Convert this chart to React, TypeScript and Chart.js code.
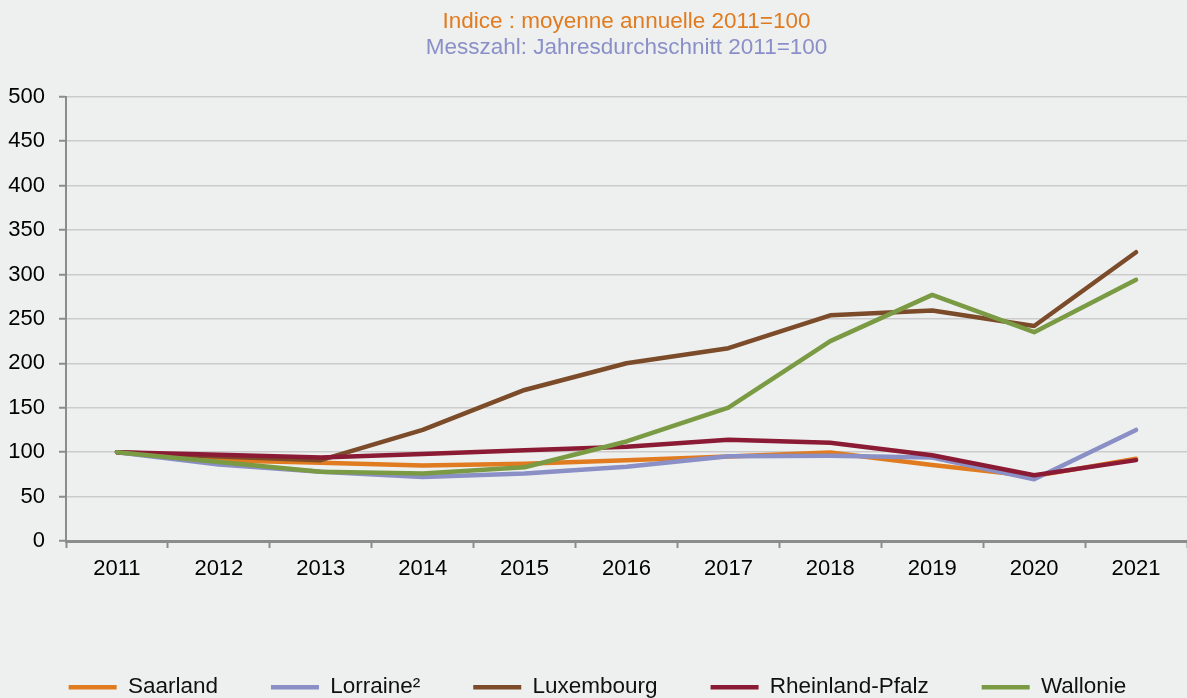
import React, { useEffect, useRef } from "react";
import { Chart, registerables } from "chart.js";

Chart.register(...registerables);

const years = ["2011", "2012", "2013", "2014", "2015", "2016", "2017", "2018", "2019", "2020", "2021"];
const saarland = [100, 91, 88, 85, 87, 91, 95, 99.5, 85.5, 73, 92.5];
const lorraine = [100, 86, 78, 72, 76, 83.5, 95.5, 96, 94, 69.5, 125];
const luxembourg = [100, 95, 91, 125, 170, 200, 217, 254, 259.5, 242, 325];
const rheinlandPfalz = [100, 97, 94, 98, 102, 106, 114, 110.5, 96.5, 74, 91];
const wallonie = [100, 89, 78, 76, 83, 112, 150, 225, 277, 235, 294];

const seriesNames = ["Saarland", "Lorraine²", "Luxembourg", "Rheinland-Pfalz", "Wallonie"];
const seriesColors = ["#E07B20", "#8A8FC6", "#7B4B2A", "#8B1B35", "#7A9A44"];
const titleText = "Indice : moyenne annuelle 2011=100";
const subtitleText = "Messzahl: Jahresdurchschnitt 2011=100";

const BG = "#EEF0EF";
const FONT = "'Liberation Sans', Arial, sans-serif";

export default function App() {
  const ref = useRef<HTMLCanvasElement | null>(null);

  useEffect(() => {
    document.body.style.margin = "0";
    document.body.style.background = BG;
    const canvas = ref.current;
    if (!canvas) return;
    const seriesValues = [saarland, lorraine, luxembourg, rheinlandPfalz, wallonie];
    const bgPlugin = {
      id: "bgFill",
      beforeDraw(chart: any) {
        const c = chart.ctx;
        c.save();
        c.fillStyle = BG;
        c.fillRect(0, 0, chart.width, chart.height);
        c.restore();
      },
    };
    const chart = new Chart(canvas, {
      type: "line",
      data: {
        labels: years,
        datasets: seriesNames.map((name, i) => ({
          label: name,
          data: seriesValues[i],
          borderColor: seriesColors[i],
          backgroundColor: seriesColors[i],
          borderWidth: 4.5,
          borderCapStyle: "round",
          borderJoinStyle: "round",
          pointRadius: 0,
          pointHoverRadius: 0,
          tension: 0,
          fill: false,
          order: 5 - i,
        })),
      },
      options: {
        responsive: false,
        animation: false,
        events: [],
        layout: { padding: { left: 8, right: 0, top: 0, bottom: 0 } },
        plugins: {
          title: {
            display: true,
            text: titleText,
            color: "#E07B20",
            fullSize: false,
            font: { family: FONT, size: 22.5, weight: "normal", lineHeight: 1.15 },
            padding: { top: 9, bottom: 0 },
          },
          subtitle: {
            display: true,
            text: subtitleText,
            color: "#8A8FC8",
            fullSize: false,
            font: { family: FONT, size: 22.5, weight: "normal", lineHeight: 1.15 },
            padding: { top: 0, bottom: 36 },
          },
          legend: {
            display: true,
            position: "bottom",
            maxHeight: 75,
            labels: {
              usePointStyle: true,
              pointStyle: "line",
              pointStyleWidth: 48,
              boxHeight: 4,
              padding: 53,
              color: "#111",
              font: { family: FONT, size: 22.5 },
              sort: (a: any, b: any) => a.datasetIndex - b.datasetIndex,
            },
          },
          tooltip: { enabled: false },
        },
        scales: {
          x: {
            type: "category",
            offset: true,
            afterFit: (scale: any) => {
              scale.height = 82;
            },
            grid: {
              display: true,
              offset: true,
              drawOnChartArea: false,
              drawTicks: true,
              tickLength: 7,
              tickColor: "#8C8C8C",
              tickWidth: 2,
            },
            border: { display: true, color: "#8C8C8C", width: 3 },
            ticks: {
              color: "#000",
              padding: 8,
              maxRotation: 0,
              autoSkip: false,
              font: { family: FONT, size: 22 },
            },
          },
          y: {
            min: 0,
            max: 500,
            afterFit: (scale: any) => {
              scale.width = 58;
            },
            grid: {
              color: "#CBCBCB",
              lineWidth: 1.5,
              drawTicks: true,
              tickLength: 7,
              tickColor: "#8C8C8C",
              tickWidth: 2,
            },
            border: { display: true, color: "#8C8C8C", width: 2 },
            ticks: {
              stepSize: 50,
              color: "#000",
              padding: 14,
              font: { family: FONT, size: 22 },
            },
          },
        },
      },
      plugins: [bgPlugin],
    } as any);
    return () => chart.destroy();
  }, []);

  return (
    <div style={{ width: 1187, height: 698, background: BG }}>
      <canvas ref={ref} width={1187} height={698} style={{ display: "block" }} />
    </div>
  );
}
